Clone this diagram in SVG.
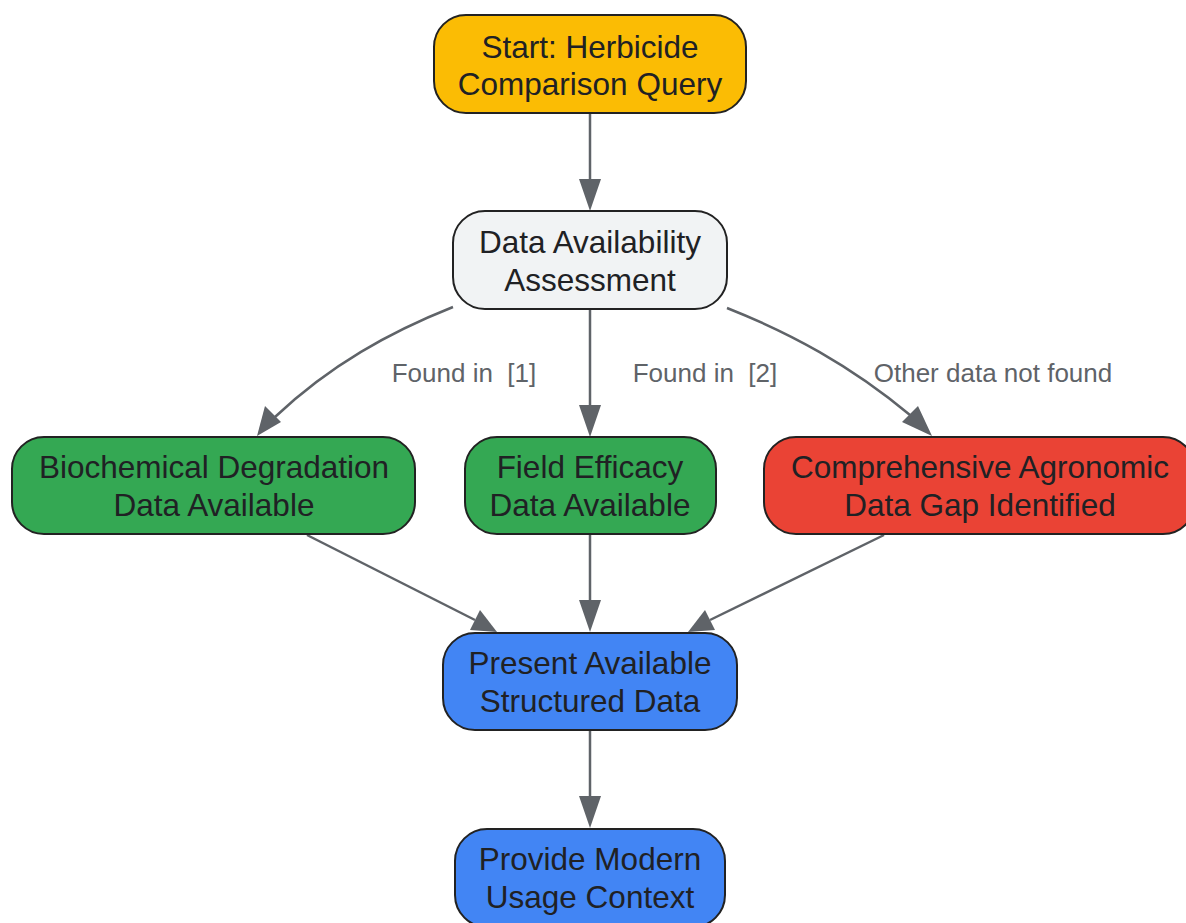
<svg xmlns="http://www.w3.org/2000/svg" width="1186" height="923" viewBox="0 0 1186 923">
<defs>
<style>
.n{stroke:#222;stroke-width:2}
.t{font-family:"Liberation Sans",Arial,sans-serif;font-size:31.5px;fill:#202124;text-anchor:middle}
.l{font-family:"Liberation Sans",Arial,sans-serif;font-size:26px;fill:#5f6368;text-anchor:middle;white-space:pre}
.e{fill:none;stroke:#5f6368;stroke-width:2.5}
</style>
</defs>
<g id="edges">
<path class="e" d="M590,113V190"/>
<path d="M579,179L601,179L590,211z" fill="#5f6368"/>
<path class="e" d="M590,309V410"/>
<path d="M579,405L601,405L590,437z" fill="#5f6368"/>
<path class="e" d="M453,307C390,332 330,365 275,417"/>
<path d="M265,406L281,422L257,436z" fill="#5f6368"/>
<path class="e" d="M727,308C790,333 850,365 910,415"/>
<path d="M902,422L918,406L932,436z" fill="#5f6368"/>
<path class="e" d="M307,535L475,620"/>
<path d="M470,630L480,610L497,632z" fill="#5f6368"/>
<path class="e" d="M590,535V605"/>
<path d="M579,600L601,600L590,632z" fill="#5f6368"/>
<path class="e" d="M884,535L710,620"/>
<path d="M715,630L705,610L688,632z" fill="#5f6368"/>
<path class="e" d="M590,730V800"/>
<path d="M579,796L601,796L590,828z" fill="#5f6368"/>
<text class="l" x="464" y="382" xml:space="preserve">Found in  [1]</text>
<text class="l" x="705" y="382" xml:space="preserve">Found in  [2]</text>
<text class="l" x="993" y="382">Other data not found</text>
</g>
<g id="start">
<rect class="n" x="434" y="15" width="312" height="98" rx="32" fill="#FBBC04"/>
<text class="t" x="590" y="58">Start: Herbicide</text>
<text class="t" x="590" y="95">Comparison Query</text>
</g>
<g id="assess">
<rect class="n" x="453" y="211" width="274" height="98" rx="32" fill="#F1F3F4"/>
<text class="t" x="590" y="253">Data Availability</text>
<text class="t" x="590" y="291">Assessment</text>
</g>
<g id="bio">
<rect class="n" x="12" y="437" width="403" height="97" rx="32" fill="#34A853"/>
<text class="t" x="214" y="478">Biochemical Degradation</text>
<text class="t" x="214" y="516">Data Available</text>
</g>
<g id="field">
<rect class="n" x="465" y="437" width="251" height="97" rx="32" fill="#34A853"/>
<text class="t" x="590" y="478">Field Efficacy</text>
<text class="t" x="590" y="516">Data Available</text>
</g>
<g id="gap">
<rect class="n" x="764" y="437" width="431" height="97" rx="32" fill="#EA4335"/>
<text class="t" x="980" y="478">Comprehensive Agronomic</text>
<text class="t" x="980" y="516">Data Gap Identified</text>
</g>
<g id="present">
<rect class="n" x="443" y="633" width="294" height="97" rx="32" fill="#4285F4"/>
<text class="t" x="590" y="674">Present Available</text>
<text class="t" x="590" y="712">Structured Data</text>
</g>
<g id="provide">
<rect class="n" x="455" y="829" width="270" height="98" rx="32" fill="#4285F4"/>
<text class="t" x="590" y="870">Provide Modern</text>
<text class="t" x="590" y="908">Usage Context</text>
</g>
</svg>
